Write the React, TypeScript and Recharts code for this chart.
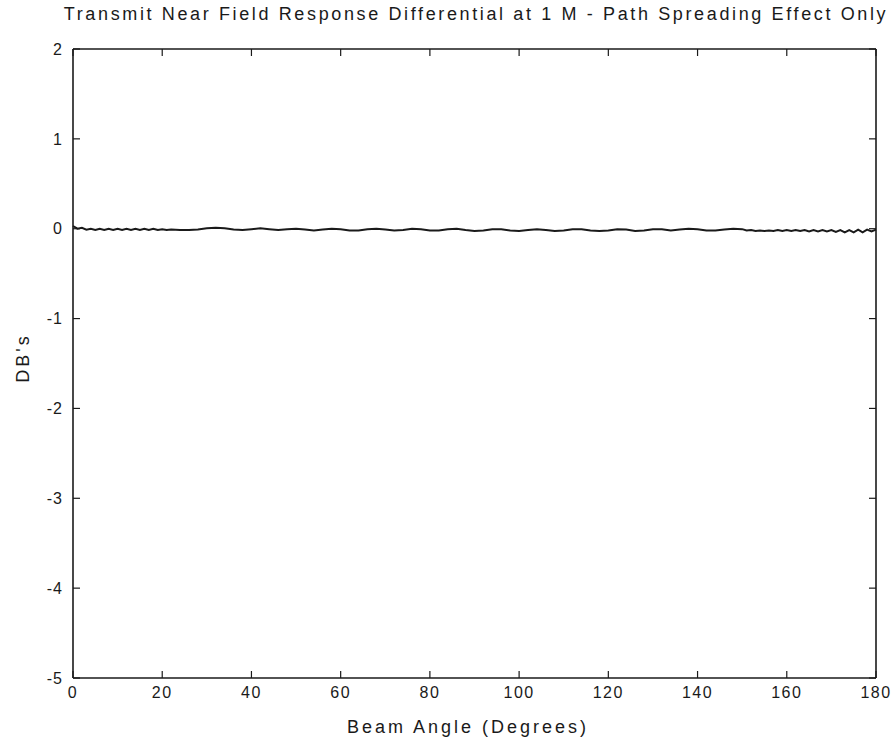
import React from "react";
import { LineChart, Line, XAxis, YAxis } from "recharts";

const title = "Transmit Near Field Response Differential at 1 M - Path Spreading Effect Only";
const xTitle = "Beam Angle (Degrees)";
const yTitle = "DB's";

const xTicks = [0, 20, 40, 60, 80, 100, 120, 140, 160, 180];
const yTicks = [-5, -4, -3, -2, -1, 0, 1, 2];

const angles = [
  0, 1, 2, 3, 4, 5, 6, 7, 8, 9, 10, 11, 12, 13, 14, 15, 16, 17, 18, 19, 20, 21, 22,
  24, 26, 28, 30, 32, 34, 36, 38, 40, 42, 44, 46, 48, 50, 52, 54, 56, 58, 60,
  62, 64, 66, 68, 70, 72, 74, 76, 78, 80, 82, 84, 86, 88, 90, 92, 94, 96, 98, 100,
  102, 104, 106, 108, 110, 112, 114, 116, 118, 120, 122, 124, 126, 128, 130, 132,
  134, 136, 138, 140, 142, 144, 146, 148, 150, 151, 152, 153, 154, 155, 156, 157,
  158, 159, 160, 161, 162, 163, 164, 165, 166, 167, 168, 169, 170, 171, 172, 173,
  174, 175, 176, 177, 178, 179, 180,
];

const dbValues = [
  0.03, 0.0, 0.01, -0.01, 0.0, -0.015, 0.0, -0.015, 0.0, -0.015, 0.0, -0.015, 0.0,
  -0.015, 0.0, -0.015, 0.0, -0.015, 0.0, -0.015, -0.005, -0.015, -0.01,
  -0.015, -0.015, -0.01, 0.005, 0.01, 0.005, -0.01, -0.015, -0.005, 0.005, -0.005,
  -0.015, -0.005, 0.0, -0.01, -0.02, -0.01, 0.0, -0.005,
  -0.02, -0.02, -0.005, 0.0, -0.01, -0.02, -0.015, 0.0, -0.005, -0.02, -0.02, -0.005,
  0.0, -0.015, -0.025, -0.02, -0.005, -0.005, -0.02, -0.025,
  -0.015, -0.005, -0.015, -0.025, -0.02, -0.005, -0.005, -0.02, -0.025, -0.02,
  -0.005, -0.01, -0.025, -0.02, -0.005, -0.005,
  -0.02, -0.01, 0.0, -0.005, -0.02, -0.02, -0.01, 0.0, -0.005, -0.02, -0.015,
  -0.025, -0.02, -0.025, -0.02, -0.025,
  -0.015, -0.025, -0.015, -0.025, -0.015, -0.025, -0.015, -0.03, -0.015, -0.03,
  -0.015, -0.03, -0.015, -0.035, -0.015, -0.04,
  -0.015, -0.04, -0.01, -0.04, -0.01, -0.03, -0.01,
];

const data = angles.map((a, i) => ({ angle: a, db: dbValues[i] }));

const FONT = "'Liberation Sans', Arial, sans-serif";
const INK = "#1a1a1a";
const TICK_LEN = 7;
// tick props are offset from the axis line by tickSize + tickMargin
const OFF = 2;

const BottomTick = (props: any) => {
  const { x, y, payload } = props;
  const ay = y - OFF;
  return (
    <g>
      <line x1={x} y1={ay} x2={x} y2={ay - TICK_LEN} stroke={INK} strokeWidth={1.2} />
      <text
        x={x}
        y={ay + 9}
        dy="0.71em"
        textAnchor="middle"
        fill={INK}
        fontSize={16}
        fontFamily={FONT}
        letterSpacing={1.5}
      >
        {payload.value}
      </text>
    </g>
  );
};

const TopTick = (props: any) => {
  const { x, y } = props;
  const ay = y + OFF;
  return <line x1={x} y1={ay} x2={x} y2={ay + TICK_LEN} stroke={INK} strokeWidth={1.2} />;
};

const LeftTick = (props: any) => {
  const { x, y, payload } = props;
  const ax = x + OFF;
  return (
    <g>
      <line x1={ax} y1={y} x2={ax + TICK_LEN} y2={y} stroke={INK} strokeWidth={1.2} />
      <text
        x={ax - 10}
        y={y}
        dy="0.355em"
        textAnchor="end"
        fill={INK}
        fontSize={16}
        fontFamily={FONT}
        letterSpacing={1}
      >
        {payload.value}
      </text>
    </g>
  );
};

const RightTick = (props: any) => {
  const { x, y } = props;
  const ax = x - OFF;
  return <line x1={ax} y1={y} x2={ax - TICK_LEN} y2={y} stroke={INK} strokeWidth={1.2} />;
};

export default function App() {
  return (
    <div style={{ position: "absolute", left: 0, top: 0, width: 895, height: 746, background: "#fff" }}>
      <div
        style={{
          position: "absolute",
          left: 0,
          width: 952,
          top: 4,
          textAlign: "center",
          fontFamily: FONT,
          fontSize: 18,
          letterSpacing: 2.63,
          color: INK,
          whiteSpace: "nowrap",
        }}
      >
        {title}
      </div>
      <div
        style={{
          position: "absolute",
          left: 0,
          width: 936,
          top: 717,
          textAlign: "center",
          fontFamily: FONT,
          fontSize: 18,
          letterSpacing: 3,
          color: INK,
          whiteSpace: "nowrap",
        }}
      >
        {xTitle}
      </div>
      <div
        style={{
          position: "absolute",
          left: 23,
          top: 358,
          transform: "translate(-50%, -50%) rotate(-90deg)",
          fontFamily: FONT,
          fontSize: 18,
          letterSpacing: 3,
          color: INK,
          whiteSpace: "nowrap",
        }}
      >
        {yTitle}
      </div>
      <LineChart
        width={895}
        height={746}
        data={data}
        margin={{ top: 47, right: 18, bottom: 0, left: 0 }}
        style={{ position: "absolute", left: 0, top: 0 }}
      >
        <XAxis
          xAxisId="bottom"
          dataKey="angle"
          type="number"
          domain={[0, 180]}
          ticks={xTicks}
          interval={0}
          orientation="bottom"
          height={68}
          tickSize={1}
          tickMargin={1}
          axisLine={{ stroke: INK, strokeWidth: 1.6 }}
          tickLine={false}
          tick={BottomTick}
        />
        <XAxis
          xAxisId="top"
          dataKey="angle"
          type="number"
          domain={[0, 180]}
          ticks={xTicks}
          interval={0}
          orientation="top"
          height={2}
          tickSize={1}
          tickMargin={1}
          axisLine={{ stroke: INK, strokeWidth: 1.6 }}
          tickLine={false}
          tick={TopTick}
        />
        <YAxis
          yAxisId="left"
          type="number"
          domain={[-5, 2]}
          ticks={yTicks}
          interval={0}
          orientation="left"
          width={73}
          tickSize={1}
          tickMargin={1}
          axisLine={{ stroke: INK, strokeWidth: 1.6 }}
          tickLine={false}
          tick={LeftTick}
        />
        <YAxis
          yAxisId="right"
          type="number"
          domain={[-5, 2]}
          ticks={yTicks}
          interval={0}
          orientation="right"
          width={1}
          tickSize={1}
          tickMargin={1}
          axisLine={{ stroke: INK, strokeWidth: 1.6 }}
          tickLine={false}
          tick={RightTick}
        />
        <Line
          xAxisId="bottom"
          yAxisId="left"
          type="linear"
          dataKey="db"
          stroke={INK}
          strokeWidth={2}
          dot={false}
          isAnimationActive={false}
        />
        <Line
          xAxisId="top"
          yAxisId="right"
          type="linear"
          dataKey="db"
          stroke="none"
          strokeWidth={0}
          dot={false}
          activeDot={false}
          legendType="none"
          isAnimationActive={false}
        />
      </LineChart>
    </div>
  );
}
